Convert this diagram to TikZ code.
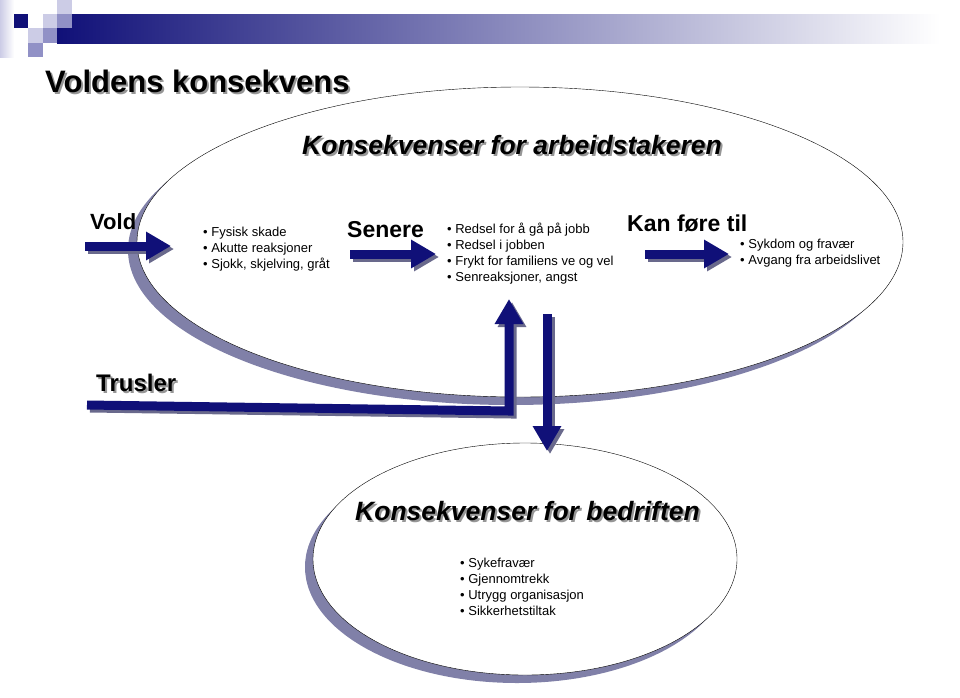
\documentclass[tikz,border=0pt]{standalone}
\usepackage{fontspec}
\setmainfont{Liberation Sans}
\usetikzlibrary{arrows.meta}

\definecolor{navy}{RGB}{16,16,120}
\definecolor{barmid}{RGB}{160,160,188}
\definecolor{arrowgray}{RGB}{105,105,140}
\definecolor{ellgray}{RGB}{128,128,168}
\definecolor{textgray}{RGB}{150,150,150}
\definecolor{lavlight}{RGB}{204,204,230}
\definecolor{lavmid}{RGB}{145,145,198}

\newcommand{\shadowed}[1]{\leavevmode\rlap{\kern2pt\raisebox{-2pt}{\color{textgray}#1}}#1}

\begin{document}
\begin{tikzpicture}[x=1pt,y=-1pt]
            \tikzstyle{block arrow} = [draw=navy, line width=9pt, line join=miter, -{Triangle[length=25pt,width=27pt]}]
            \tikzstyle{arrow shadow} = [draw=arrowgray, line width=9pt, line join=miter, -{Triangle[length=25pt,width=27pt]}, transform canvas={shift={(3,3)}}]
            \tikzstyle{heading} = [inner sep=0pt, anchor=base west, font=\fontsize{23}{27}\selectfont\bfseries]
            \tikzstyle{title} = [inner sep=0pt, anchor=base west, font=\fontsize{26.5}{31}\selectfont\bfseries\itshape]
            \tikzstyle{bullets} = [inner sep=0pt, anchor=west, align=left, font=\fontsize{13}{16}\selectfont]

            \useasboundingbox (0,0) rectangle (960,697);

            % header bar
            \fill[left color=navy, middle color=barmid, right color=white] (57,14) rectangle (940,43);
            \fill[left color=lavlight, right color=white] (0,0) rectangle (14,57);
            \fill[navy] (14,14) rectangle (28,28);
            \fill[lavlight] (43,14) rectangle (57,28);
            \fill[lavlight] (57,0) rectangle (72,14);
            \fill[lavmid] (57,14) rectangle (72,28);
            \fill[lavlight] (28,28) rectangle (43,43);
            \fill[lavmid] (43,28) rectangle (57,43);
            \fill[lavmid] (28,43) rectangle (43,57);

            % ellipses
            \fill[ellgray] (511,250) ellipse [x radius=383, y radius=155];
            \draw[fill=white, thin] (520,242) ellipse [x radius=383, y radius=155];
            \fill[ellgray] (517,567) ellipse [x radius=212, y radius=116];
            \draw[fill=white, thin] (525,559) ellipse [x radius=212, y radius=116];

            % texts
            \node[inner sep=0pt, anchor=base west, font=\fontsize{31}{37}\selectfont\bfseries] (mainhead) at (45,92) {\shadowed{Voldens konsekvens}};
            \node[title] (worker) at (302,154) {\shadowed{Konsekvenser for arbeidstakeren}};
            \node[title] (company) at (355,520) {\shadowed{Konsekvenser for bedriften}};
            \node[heading, font=\fontsize{22}{26}\selectfont\bfseries] (vold) at (90,229) {Vold};
            \node[heading] (senere) at (347,237) {Senere};
            \node[heading] (kan) at (627,231) {Kan føre til};
            \node[heading, font=\fontsize{24}{28}\selectfont\bfseries] (trusler) at (96,391) {\shadowed{Trusler}};

            \node[bullets] (first) at (203,249) {• Fysisk skade\\• Akutte reaksjoner\\• Sjokk, skjelving, gråt};
            \node[bullets] (later) at (447,254) {• Redsel for å gå på jobb\\• Redsel i jobben\\• Frykt for familiens ve og vel\\• Senreaksjoner, angst};
            \node[bullets] (result) at (740,253) {• Sykdom og fravær\\• Avgang fra arbeidslivet};
            \node[bullets] (firm) at (460,587) {• Sykefravær\\• Gjennomtrekk\\• Utrygg organisasjon\\• Sikkerhetstiltak};

            % arrows
            \coordinate (voldA) at (85,246);
            \coordinate (voldB) at (171,246);
            \coordinate (senA) at (350,254);
            \coordinate (senB) at (436,254);
            \coordinate (kanA) at (645,254);
            \coordinate (kanB) at (729,254);
            \coordinate (trusA) at (87,405);
            \coordinate (trusC) at (509,411);
            \coordinate (trusB) at (509,299);
            \coordinate (downA) at (547,314);
            \coordinate (downB) at (547,451);

            \draw[arrow shadow] (voldA) -- (voldB);
            \draw[block arrow] (voldA) -- (voldB);
            \draw[arrow shadow] (senA) -- (senB);
            \draw[block arrow] (senA) -- (senB);
            \draw[arrow shadow] (kanA) -- (kanB);
            \draw[block arrow] (kanA) -- (kanB);
            \draw[arrow shadow] (trusA) -- (trusC) -- (trusB);
            \draw[block arrow] (trusA) -- (trusC) -- (trusB);
            \draw[arrow shadow] (downA) -- (downB);
            \draw[block arrow] (downA) -- (downB);

        \end{tikzpicture}
\end{document}
